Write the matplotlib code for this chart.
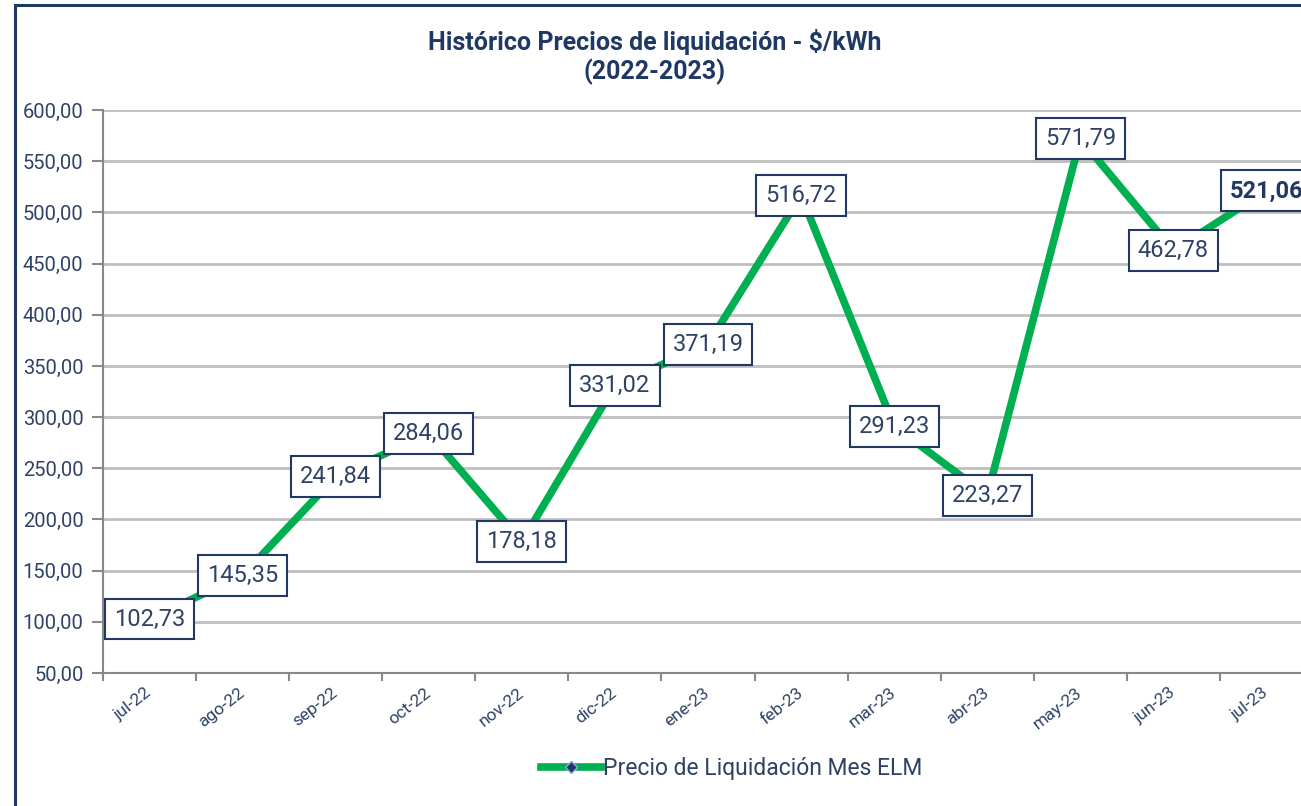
import matplotlib
matplotlib.use("Agg")
import matplotlib.pyplot as plt
from matplotlib.patches import Rectangle
from matplotlib.lines import Line2D

months = ["jul-22", "ago-22", "sep-22", "oct-22", "nov-22", "dic-22", "ene-23",
          "feb-23", "mar-23", "abr-23", "may-23", "jun-23", "jul-23"]
prices = [102.73, 145.35, 241.84, 284.06, 178.18, 331.02, 371.19,
          516.72, 291.23, 223.27, 571.79, 462.78, 521.06]
yticks = [50, 100, 150, 200, 250, 300, 350, 400, 450, 500, 550, 600]

NAVY = "#1F3864"
GREEN = "#00B050"
TXT = "#2F4266"

plt.rcParams['font.family'] = ['Roboto', 'DejaVu Sans']

fig = plt.figure(figsize=(13.01, 8.06), dpi=100)
ax = fig.add_axes([103/1301, 1-673/806, 1210/1301, (673-110)/806])

x = list(range(len(months)))
ax.plot(x, prices, color=GREEN, lw=5.5, solid_capstyle='butt', zorder=3,
        marker='D', markersize=5, markerfacecolor=NAVY, markeredgecolor='#8EA9DB')

def fmt(v):
    return f"{v:,.2f}".replace(",", "X").replace(".", ",").replace("X", ".")

for i, v in enumerate(prices):
    bold = (i == len(prices) - 1)
    ax.text(i, v, fmt(v), ha='center', va='center', fontsize=17,
            color=NAVY if bold else TXT, fontweight='bold' if bold else 'normal',
            zorder=5, clip_on=False,
            bbox=dict(boxstyle='square,pad=0.38', fc='white', ec=NAVY, lw=1.5))

ax.set_xlim(-0.5, len(months) - 0.5)
ax.set_ylim(50, 600)
ax.set_yticks(yticks)
ax.set_yticklabels([fmt(t) for t in yticks], fontsize=14.5, color=TXT)
ax.yaxis.grid(True, color='#BFBFBF', lw=2)
ax.set_axisbelow(True)

ax.set_xticks(x)
ax.set_xticklabels(months, rotation=38, ha='right', va='center',
                   rotation_mode='anchor', fontsize=12.5, color=TXT)
ax.tick_params(axis='x', which='major', length=0, pad=13)
ax.set_xticks([i - 0.5 for i in range(len(months) + 1)], minor=True)
ax.tick_params(axis='x', which='minor', length=6, width=1.5, color='#898989')
ax.tick_params(axis='y', length=8, width=1.5, color='#898989', pad=6)

for s in ['top', 'right']:
    ax.spines[s].set_visible(False)
for s in ['left', 'bottom']:
    ax.spines[s].set_color('#898989')
    ax.spines[s].set_linewidth(1.5)

fig.text(655/1301, 1-42/806, "Histórico Precios de liquidación - $/kWh",
         ha='center', va='center', fontsize=18, fontweight='bold', color=NAVY)
fig.text(655/1301, 1-72/806, "(2022-2023)",
         ha='center', va='center', fontsize=18, fontweight='bold', color=NAVY)

handle = Line2D([], [], color=GREEN, lw=5.5, marker='D', markersize=6,
                markerfacecolor=NAVY, markeredgecolor='#8EA9DB')
leg = fig.legend([handle], ["Precio de Liquidación Mes ELM"], loc='center',
                 bbox_to_anchor=(732/1301, 1-769/806), frameon=False,
                 fontsize=16.5, handlelength=2.6, handletextpad=0.1,
                 labelcolor=TXT)

fig.patches.append(Rectangle((15/1301, -0.1), 1.2, 1-5/806 + 0.1,
                             transform=fig.transFigure, fill=False,
                             ec=NAVY, lw=2.2, zorder=10))

fig.savefig("out.png", dpi=100)
